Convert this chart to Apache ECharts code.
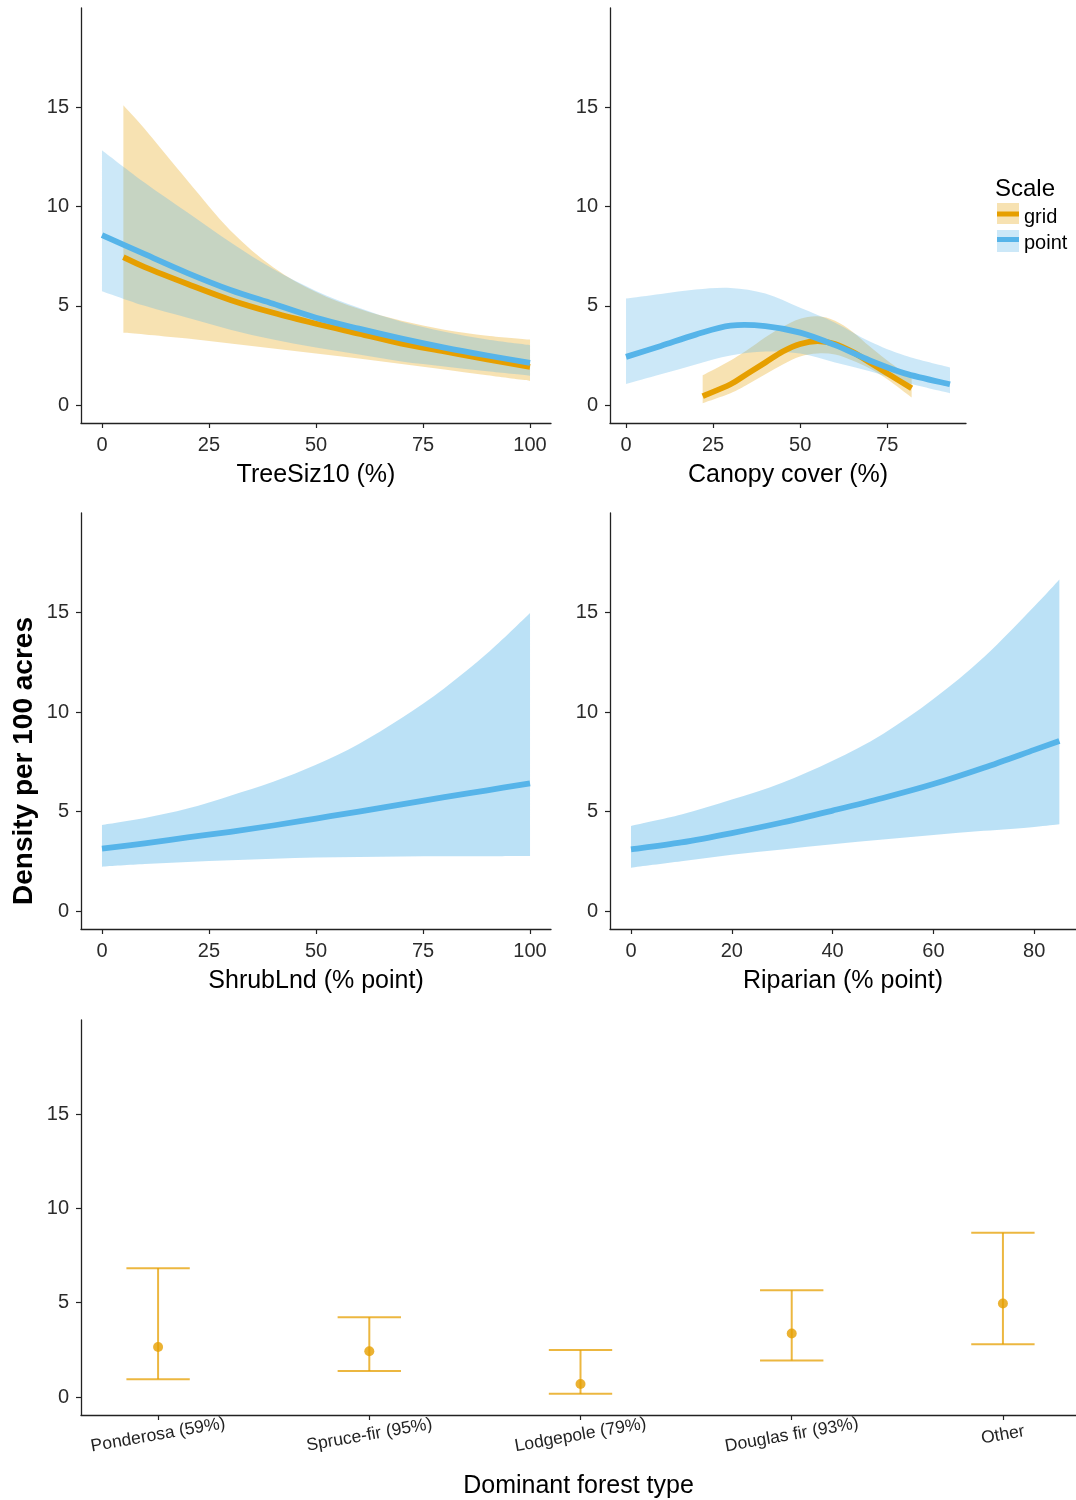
<!DOCTYPE html>
<html><head><meta charset="utf-8">
<script src="https://cdn.jsdelivr.net/npm/echarts@6/dist/echarts.min.js"></script>
<style>html,body{margin:0;padding:0;background:#fff}#c{width:1076px;height:1500px}</style>
</head><body><div id="c"></div>
<script>
// ---------- DATA ----------
// Panel 1: TreeSiz10 (%)
const treeX_point = [0,10,20,30,40,50,60,70,80,90,100];
const treePoint_fit = [8.56,7.6,6.65,5.8,5.1,4.4,3.85,3.35,2.9,2.5,2.13];
const treePoint_upper = [12.84,11.2,9.7,8.2,6.85,5.75,4.9,4.2,3.7,3.3,3.02];
const treePoint_lower = [5.74,5.0,4.4,3.8,3.3,2.9,2.55,2.2,1.95,1.7,1.48];
const treeX_grid = [5,10,20,30,40,50,60,70,80,90,100];
const treeGrid_fit = [7.45,6.95,6.1,5.3,4.65,4.1,3.6,3.1,2.7,2.3,1.93];
const treeGrid_upper = [15.1,13.9,11.3,8.8,6.95,5.7,4.85,4.25,3.8,3.5,3.3];
const treeGrid_lower = [3.64,3.56,3.35,3.1,2.85,2.6,2.35,2.07,1.8,1.5,1.22];

// Panel 2: Canopy cover (%)
const canX_point = [0,10,20,30,40,50,60,70,80,93];
const canPoint_fit = [2.43,2.98,3.55,4.0,3.98,3.65,3.02,2.25,1.6,1.05];
const canPoint_upper = [5.37,5.6,5.82,5.9,5.62,4.9,4.15,3.2,2.5,1.9];
const canPoint_lower = [1.06,1.55,2.05,2.5,2.7,2.6,2.15,1.7,1.15,0.6];
const canX_grid = [22,30,35,40,45,50,55,60,65,70,75,82];
const canGrid_fit = [0.45,1.05,1.6,2.15,2.7,3.08,3.22,3.08,2.68,2.15,1.6,0.85];
const canGrid_upper = [1.5,2.25,2.8,3.42,3.95,4.35,4.47,4.25,3.7,2.95,2.25,1.35];
const canGrid_lower = [0.1,0.6,1.05,1.55,2.05,2.45,2.6,2.55,2.25,1.85,1.3,0.38];

// Panel 3: ShrubLnd (% point)
const shrubX = [0,10,20,30,40,50,60,70,80,90,100];
const shrub_fit = [3.14,3.4,3.7,3.98,4.3,4.65,5.0,5.36,5.73,6.07,6.42];
const shrub_upper = [4.33,4.68,5.15,5.8,6.5,7.35,8.4,9.7,11.2,12.95,14.98];
const shrub_lower = [2.23,2.36,2.47,2.56,2.63,2.69,2.72,2.74,2.75,2.76,2.77];

// Panel 4: Riparian (% point)
const ripX = [0,10,20,30,40,50,60,70,80,85];
const rip_fit = [3.1,3.45,3.92,4.45,5.05,5.68,6.38,7.2,8.1,8.55];
const rip_upper = [4.28,4.85,5.6,6.45,7.55,8.9,10.65,12.75,15.3,16.66];
const rip_lower = [2.18,2.5,2.83,3.1,3.36,3.6,3.82,4.03,4.23,4.36];

// Panel 5: Dominant forest type
const forestTypes = ['Ponderosa (59%)','Spruce-fir (95%)','Lodgepole (79%)','Douglas fir (93%)','Other'];
const forestEst = [2.65,2.43,0.69,3.37,4.96];
const forestLower = [0.95,1.38,0.17,1.94,2.8];
const forestUpper = [6.83,4.23,2.49,5.66,8.71];

// Tick labels
const yTicks = [0,5,10,15];
const xTicks100 = [0,25,50,75,100];
const xTicksCanopy = [0,25,50,75];
const xTicksRip = [0,20,40,60,80];
const legendTitle = 'Scale';
const legendLabels = ['grid','point'];

// ---------- STYLE ----------
const ORANGE = '#E69F00', BLUE = '#56B4E9';
const FONT = "'Liberation Sans', Arial, sans-serif";
const AX = '#222';
const TICKCOL = '#2b2b2b';

function spline(pts){
  let d='';
  for(let i=0;i<pts.length-1;i++){
    const p0=pts[Math.max(i-1,0)],p1=pts[i],p2=pts[i+1],p3=pts[Math.min(i+2,pts.length-1)];
    const c1=[p1[0]+(p2[0]-p0[0])/6,p1[1]+(p2[1]-p0[1])/6];
    const c2=[p2[0]-(p3[0]-p1[0])/6,p2[1]-(p3[1]-p1[1])/6];
    d+=' C'+c1[0]+','+c1[1]+' '+c2[0]+','+c2[1]+' '+p2[0]+','+p2[1];
  }
  return d;
}
function ribbon(idx, xs, lo, up, fill){
  return {
    type:'custom', xAxisIndex:idx, yAxisIndex:idx, z:2, silent:true,
    data:[[xs[0], up[0]]],
    renderItem:function(params, api){
      const u = xs.map((x,i)=>api.coord([x,up[i]]));
      const l = xs.map((x,i)=>api.coord([x,lo[i]])).reverse();
      const d = 'M'+u[0][0]+','+u[0][1]+spline(u)+' L'+l[0][0]+','+l[0][1]+spline(l)+' Z';
      return {type:'path', shape:{pathData:d}, style:{fill:fill, stroke:null}};
    }
  };
}
function fitLine(idx, xs, ys, color){
  return {
    type:'custom', xAxisIndex:idx, yAxisIndex:idx, z:3, silent:true,
    data:[[xs[0], ys[0]]],
    renderItem:function(params, api){
      const p = xs.map((x,i)=>api.coord([x,ys[i]]));
      const d = 'M'+p[0][0]+','+p[0][1]+spline(p);
      return {type:'path', shape:{pathData:d}, style:{fill:null, stroke:color, lineWidth:5.8, lineCap:'butt', lineJoin:'round'}};
    }
  };
}
function yAxis(idx){
  return {
    type:'value', gridIndex:idx, min:-0.9, max:20,
    splitLine:{show:false},
    axisLine:{show:true, onZero:false, lineStyle:{color:AX, width:1.3}},
    axisTick:{show:true, length:5, customValues:yTicks, lineStyle:{color:AX, width:1.2}},
    axisLabel:{customValues:yTicks, fontSize:20, color:TICKCOL, fontFamily:FONT, margin:12}
  };
}
function xAxis(idx, min, max, ticks, name){
  return {
    type:'value', gridIndex:idx, min:min, max:max,
    name:name, nameLocation:'middle', nameGap:40,
    nameTextStyle:{fontSize:25, color:'#000', fontFamily:FONT},
    splitLine:{show:false},
    axisLine:{show:true, onZero:false, lineStyle:{color:AX, width:1.3}},
    axisTick:{show:true, length:5, customValues:ticks, lineStyle:{color:AX, width:1.2}},
    axisLabel:{customValues:ticks, fontSize:20, color:TICKCOL, fontFamily:FONT, margin:12}
  };
}

const x5 = xAxis(4, 0.635, 5.346, [1,2,3,4,5], 'Dominant forest type');
x5.nameGap = 59;
x5.axisLabel = {customValues:[1,2,3,4,5], fontSize:17.5, color:'#222', fontFamily:FONT,
  rotate:10, align:'center', verticalAlign:'middle', margin:20,
  formatter:function(v){ return forestTypes[Math.round(v)-1] || ''; }};

const option = {
  animation:false,
  backgroundColor:'#fff',
  grid:[
    {left:81, top:8, width:470, height:415},
    {left:610, top:8, width:356, height:415},
    {left:81, top:513, width:470, height:416},
    {left:610, top:513, width:466, height:416},
    {left:81, top:1020, width:995, height:395}
  ],
  xAxis:[
    xAxis(0, -4.9, 104.9, xTicks100, 'TreeSiz10 (%)'),
    xAxis(1, -4.6, 97.6, xTicksCanopy, 'Canopy cover (%)'),
    xAxis(2, -4.9, 104.9, xTicks100, 'ShrubLnd (% point)'),
    xAxis(3, -4.17, 88.3, xTicksRip, 'Riparian (% point)'),
    x5
  ],
  yAxis:[yAxis(0), yAxis(1), yAxis(2), yAxis(3), Object.assign(yAxis(4), {min:-0.95, max:19.98})],
  series:[
    ribbon(0, treeX_grid, treeGrid_lower, treeGrid_upper, 'rgba(230,159,0,0.3)'),
    ribbon(0, treeX_point, treePoint_lower, treePoint_upper, 'rgba(86,180,233,0.3)'),
    fitLine(0, treeX_grid, treeGrid_fit, ORANGE),
    fitLine(0, treeX_point, treePoint_fit, BLUE),

    ribbon(1, canX_grid, canGrid_lower, canGrid_upper, 'rgba(230,159,0,0.3)'),
    ribbon(1, canX_point, canPoint_lower, canPoint_upper, 'rgba(86,180,233,0.3)'),
    fitLine(1, canX_grid, canGrid_fit, ORANGE),
    fitLine(1, canX_point, canPoint_fit, BLUE),

    ribbon(2, shrubX, shrub_lower, shrub_upper, 'rgba(86,180,233,0.4)'),
    fitLine(2, shrubX, shrub_fit, BLUE),

    ribbon(3, ripX, rip_lower, rip_upper, 'rgba(86,180,233,0.4)'),
    fitLine(3, ripX, rip_fit, BLUE),

    {
      type:'custom', xAxisIndex:4, yAxisIndex:4, z:2, silent:true,
      data: forestTypes.map((t,i)=>[i+1, forestLower[i], forestUpper[i]]),
      renderItem:function(params, api){
        const x = api.value(0), lo = api.value(1), hi = api.value(2);
        const a = api.coord([x, lo]), b = api.coord([x, hi]);
        const l1 = api.coord([x-0.15, lo]), r1 = api.coord([x+0.15, lo]);
        const l2 = api.coord([x-0.15, hi]), r2 = api.coord([x+0.15, hi]);
        const st = {stroke:'rgba(230,159,0,0.75)', lineWidth:2};
        return {type:'group', children:[
          {type:'line', shape:{x1:a[0],y1:a[1],x2:b[0],y2:b[1]}, style:st},
          {type:'line', shape:{x1:l1[0],y1:l1[1],x2:r1[0],y2:r1[1]}, style:st},
          {type:'line', shape:{x1:l2[0],y1:l2[1],x2:r2[0],y2:r2[1]}, style:st}
        ]};
      }
    },
    {
      type:'scatter', xAxisIndex:4, yAxisIndex:4, z:3, silent:true,
      data: forestTypes.map((t,i)=>[i+1, forestEst[i]]),
      symbol:'circle', symbolSize:10, itemStyle:{color:ORANGE}
    }
  ],
  graphic:[
    {type:'text', x:24, y:761, rotation:Math.PI/2,
     style:{text:'Density per 100 acres', fontSize:28, fontWeight:'bold', fontFamily:FONT, fill:'#000', align:'center', verticalAlign:'middle'}},
    {type:'text', x:995, y:189, style:{text:legendTitle, fontSize:24, fontFamily:FONT, fill:'#000', align:'left', verticalAlign:'middle'}},
    {type:'rect', shape:{x:997, y:203, width:22, height:21}, style:{fill:'rgba(230,159,0,0.3)'}},
    {type:'rect', shape:{x:997, y:211.5, width:22, height:5}, style:{fill:ORANGE}},
    {type:'text', x:1024, y:217, style:{text:legendLabels[0], fontSize:20, fontFamily:FONT, fill:'#000', align:'left', verticalAlign:'middle'}},
    {type:'rect', shape:{x:997, y:230, width:22, height:22}, style:{fill:'rgba(86,180,233,0.3)'}},
    {type:'rect', shape:{x:997, y:237, width:22, height:5}, style:{fill:BLUE}},
    {type:'text', x:1024, y:243, style:{text:legendLabels[1], fontSize:20, fontFamily:FONT, fill:'#000', align:'left', verticalAlign:'middle'}}
  ]
};
const chart = echarts.init(document.getElementById('c'), null, {renderer:'canvas'});
chart.setOption(option);
</script>
</body></html>
